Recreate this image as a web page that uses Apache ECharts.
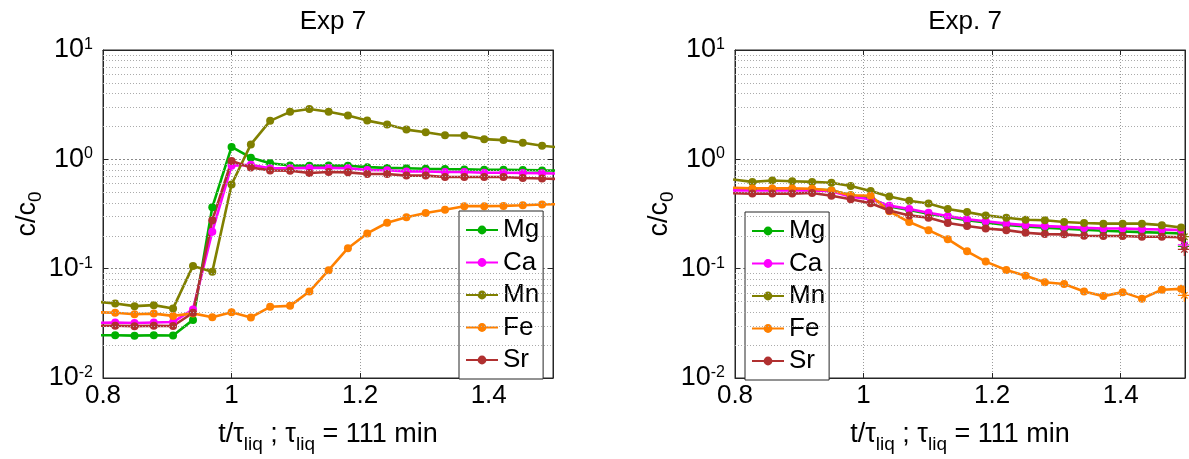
<!DOCTYPE html>
<html><head><meta charset="utf-8">
<script src="https://cdn.jsdelivr.net/npm/echarts@6/dist/echarts.min.js"></script>
<style>html,body{margin:0;padding:0;background:#fff}#c{width:1189px;height:459px}</style>
</head><body><div id="c"></div>
<script>
// ---------- data ----------
const elements = ['Mg', 'Ca', 'Mn', 'Fe', 'Sr'];
const colors = ['#00b000', '#ff00ff', '#808000', '#ff8000', '#b03030'];
const titles = ['Exp 7', 'Exp. 7'];
const xTickValues = [0.8, 1.0, 1.2, 1.4];
const minorYLines = [0.02, 0.03, 0.04, 0.05, 0.06, 0.07, 0.08, 0.09,
                     0.2, 0.3, 0.4, 0.5, 0.6, 0.7, 0.8, 0.9,
                     2, 3, 4, 5, 6, 7, 8, 9];

// left panel (Exp 7)
const leftX  = [0.789, 0.819, 0.849, 0.879, 0.909, 0.940, 0.970, 1.000, 1.030, 1.060, 1.091, 1.121, 1.151,
                1.181, 1.211, 1.242, 1.272, 1.302, 1.332, 1.362, 1.393, 1.423, 1.453, 1.483, 1.513];
const leftMg = [0.0246, 0.0246, 0.0244, 0.0246, 0.0245, 0.034, 0.364, 1.30, 1.035, 0.921, 0.878, 0.875, 0.878,
                0.875, 0.848, 0.835, 0.830, 0.820, 0.814, 0.809, 0.803, 0.803, 0.798, 0.792, 0.79];
const leftCa = [0.032, 0.0322, 0.0318, 0.0322, 0.0325, 0.0424, 0.218, 0.875, 0.89, 0.83, 0.83, 0.835, 0.835,
                0.83, 0.80, 0.795, 0.776, 0.776, 0.765, 0.765, 0.755, 0.755, 0.750, 0.745, 0.74];
const leftMn = [0.05, 0.048, 0.0454, 0.0464, 0.0433, 0.106, 0.0935, 0.589, 1.37, 2.25, 2.72, 2.89, 2.72,
                2.52, 2.26, 2.08, 1.87, 1.77, 1.66, 1.65, 1.53, 1.50, 1.42, 1.33, 1.28];
const leftFe = [0.040, 0.0395, 0.0383, 0.0388, 0.0370, 0.039, 0.036, 0.0400, 0.0358, 0.0448, 0.0457, 0.0618, 0.0968,
                0.154, 0.21, 0.263, 0.295, 0.323, 0.346, 0.373, 0.373, 0.375, 0.38, 0.386, 0.39];
const leftSr = [0.030, 0.0301, 0.0298, 0.0301, 0.0299, 0.0395, 0.277, 0.966, 0.843, 0.792, 0.788, 0.750, 0.765,
                0.76, 0.734, 0.734, 0.710, 0.71, 0.69, 0.69, 0.69, 0.69, 0.676, 0.667, 0.66];

// right panel (Exp. 7) - last point is the end marker (*)
const rightX  = [0.797, 0.827, 0.858, 0.889, 0.920, 0.950, 0.980, 1.011, 1.040, 1.071, 1.101, 1.131, 1.161,
                 1.190, 1.222, 1.252, 1.282, 1.312, 1.343, 1.373, 1.403, 1.433, 1.464, 1.494, 1.499];
const rightMg = [0.53, 0.53, 0.53, 0.53, 0.53, 0.52, 0.47, 0.44, 0.37, 0.345, 0.318, 0.297, 0.277,
                 0.264, 0.251, 0.243, 0.237, 0.232, 0.227, 0.222, 0.219, 0.216, 0.213, 0.210, 0.16];
const rightCa = [0.52, 0.52, 0.52, 0.52, 0.52, 0.51, 0.455, 0.432, 0.377, 0.352, 0.324, 0.303, 0.283,
                 0.271, 0.258, 0.250, 0.245, 0.241, 0.236, 0.233, 0.233, 0.230, 0.228, 0.225, 0.165];
const rightMn = [0.655, 0.622, 0.640, 0.631, 0.622, 0.610, 0.570, 0.514, 0.457, 0.418, 0.395, 0.352, 0.329,
                 0.307, 0.292, 0.280, 0.277, 0.267, 0.262, 0.258, 0.258, 0.258, 0.250, 0.238, 0.196];
const rightFe = [0.55, 0.542, 0.542, 0.542, 0.539, 0.520, 0.469, 0.464, 0.335, 0.267, 0.225, 0.186, 0.144,
                 0.116, 0.0973, 0.0861, 0.0750, 0.0725, 0.0619, 0.0561, 0.0610, 0.0532, 0.0641, 0.0654, 0.057];
const rightSr = [0.49, 0.486, 0.486, 0.486, 0.493, 0.464, 0.432, 0.396, 0.340, 0.307, 0.292, 0.262, 0.246,
                 0.233, 0.225, 0.213, 0.207, 0.206, 0.200, 0.199, 0.199, 0.196, 0.196, 0.194, 0.150];

const leftSets = [leftMg, leftCa, leftMn, leftFe, leftSr];
const rightSets = [rightMg, rightCa, rightMn, rightFe, rightSr];

// ---------- chart ----------
const FONT = '"Liberation Sans", Arial, Helvetica, sans-serif';
const AX = '#262626';
const asterisk = 'path://M-1,-10 L1,-10 L1,10 L-1,10 Z M-10,-1 L10,-1 L10,1 L-10,1 Z ' +
  'M-5.66,-4.24 L-4.24,-5.66 L5.66,4.24 L4.24,5.66 Z M-4.24,5.66 L-5.66,4.24 L4.24,-5.66 L5.66,-4.24 Z';

const grids = [
  {left: 103, right: 636, top: 50, bottom: 74},
  {left: 735, right: 4, top: 50, bottom: 74}
];

function xBottom(gi) {
  return {
    type: 'value', gridIndex: gi, min: 0.8, max: 1.5, interval: 0.2,
    name: 't/τ{sub|liq} ; τ{sub|liq} = 111 min', nameLocation: 'middle', nameGap: 37,
    nameTextStyle: {fontSize: 27, color: '#000', fontFamily: FONT, verticalAlign: 'top',
      rich: {sub: {fontSize: 19, color: '#000', fontFamily: FONT, verticalAlign: 'bottom', padding: [20, 0, 0, 0]}}},
    axisLine: {show: true, lineStyle: {color: AX, width: 1}},
    axisTick: {show: true, inside: true, length: 5, lineStyle: {color: AX}},
    axisLabel: {show: true, fontSize: 26, color: '#000', fontFamily: FONT, margin: 5, showMaxLabel: false,
      formatter: v => (Math.abs(v - 1) < 1e-9 ? '1' : (+v).toFixed(1))},
    splitLine: {show: true, lineStyle: {type: [1, 2], color: '#9a9a9a', width: 1}}
  };
}
function xTop(gi) {
  return {
    type: 'value', gridIndex: gi, min: 0.8, max: 1.5, interval: 0.2, position: 'top',
    axisLine: {show: true, lineStyle: {color: AX}},
    axisTick: {show: true, inside: true, length: 5, lineStyle: {color: AX}},
    axisLabel: {show: false}, splitLine: {show: false}
  };
}
function yLeft(gi) {
  return {
    type: 'log', logBase: 10, gridIndex: gi, min: 0.01, max: 10,
    name: 'c/c{sub|0}', nameLocation: 'middle', nameGap: 52,
    nameTextStyle: {fontSize: 27, color: '#000', fontFamily: FONT,
      rich: {sub: {fontSize: 19, color: '#000', fontFamily: FONT, verticalAlign: 'bottom', padding: [16, 0, 0, 0]}}},
    axisLine: {show: true, lineStyle: {color: AX}},
    axisTick: {show: true, inside: true, length: 5, lineStyle: {color: AX}},
    axisLabel: {show: true, margin: 10, color: '#000', fontFamily: FONT,
      formatter: v => '{b|10}{s|' + Math.round(Math.log10(v)) + '}',
      rich: {
        b: {fontSize: 27, color: '#000', fontFamily: FONT, lineHeight: 27},
        s: {fontSize: 16, color: '#000', fontFamily: FONT, verticalAlign: 'top', lineHeight: 16}
      }},
    splitLine: {show: true, lineStyle: {type: [2, 2], color: '#8a8a8a', width: 1}}
  };
}
function yRight(gi) {
  return {
    type: 'log', logBase: 10, gridIndex: gi, min: 0.01, max: 10, position: 'right',
    axisLine: {show: true, lineStyle: {color: AX}},
    axisTick: {show: true, inside: true, length: 5, lineStyle: {color: AX}},
    axisLabel: {show: false}, splitLine: {show: false}
  };
}

const series = [];
[0, 1].forEach(gi => {
  series.push({
    type: 'line', xAxisIndex: gi, yAxisIndex: gi, data: [], silent: true, z: 1,
    markLine: {
      silent: true, symbol: ['none', 'none'], label: {show: false}, animation: false,
      lineStyle: {type: [1, 2], color: '#ababab', width: 1},
      data: minorYLines.map(v => ({yAxis: v}))
    }
  });
});
elements.forEach((name, i) => {
  series.push({
    type: 'line', name: name, xAxisIndex: 0, yAxisIndex: 0, z: 3, clip: true,
    symbol: 'circle', symbolSize: 8, showAllSymbol: true,
    lineStyle: {width: 2.6, color: colors[i]}, itemStyle: {color: colors[i]},
    data: leftX.map((x, k) => [x, leftSets[i][k]])
  });
});
elements.forEach((name, i) => {
  const last = rightX.length - 1;
  series.push({
    type: 'line', name: name, xAxisIndex: 1, yAxisIndex: 1, z: 3, clip: true,
    symbol: 'circle', symbolSize: 8, showAllSymbol: true,
    lineStyle: {width: 2.6, color: colors[i]}, itemStyle: {color: colors[i]},
    data: rightX.map((x, k) => k === last
      ? {value: [x, rightSets[i][k]], symbol: asterisk, symbolSize: 13}
      : [x, rightSets[i][k]])
  });
});

function legend(left, top) {
  return {
    orient: 'vertical', left: left, top: top, data: elements,
    itemWidth: 32, itemHeight: 11, itemGap: 6.5, padding: [6, 4, 6, 6],
    borderColor: AX, borderWidth: 1, backgroundColor: '#fff', selectedMode: false,
    textStyle: {fontSize: 26, color: '#000', fontFamily: FONT}
  };
}

const chart = echarts.init(document.getElementById('c'), null, {renderer: 'canvas'});
chart.setOption({
  animation: false,
  backgroundColor: '#fff',
  title: [
    {text: titles[0], left: 328, top: 4, textAlign: 'center', textStyle: {fontSize: 26, fontWeight: 'normal', color: '#000', fontFamily: FONT}},
    {text: titles[1], left: 960, top: 4, textAlign: 'center', textStyle: {fontSize: 26, fontWeight: 'normal', color: '#000', fontFamily: FONT}}
  ],
  grid: grids.map(g => Object.assign({show: true, borderColor: AX, borderWidth: 1, backgroundColor: '#fff'}, g)),
  xAxis: [xBottom(0), xBottom(1), xTop(0), xTop(1)],
  yAxis: [yLeft(0), yLeft(1), yRight(0), yRight(1)],
  legend: [legend(459, 211), legend(745, 212)],
  series: series
});
</script>
</body></html>
